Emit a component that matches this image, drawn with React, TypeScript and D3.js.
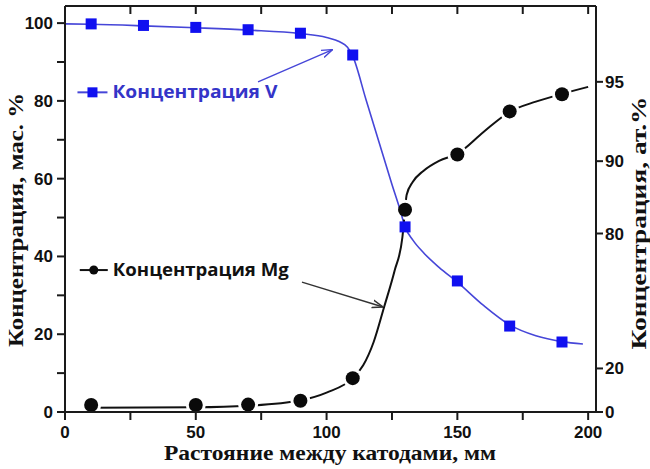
import React from "react";
import * as d3 from "d3";

// Distance between cathodes, mm
const vX = [10, 30, 50, 70, 90, 110, 130, 150, 170, 190];
const vWt = [99.8, 99.4, 98.9, 98.3, 97.4, 91.8, 47.6, 33.7, 22.1, 18.0];
const mgX = [10, 50, 70, 90, 110, 130, 150, 170, 190];
const mgWt = [1.8, 1.8, 1.9, 2.9, 8.7, 52.0, 66.2, 77.3, 81.7];

// Fit curves
const vFitX = [0, 10, 30, 50, 70, 90, 100, 105, 108, 110, 115, 120, 125, 128, 130, 133, 137, 143, 150, 160, 170, 180, 190, 198];
const vFitY = [99.8, 99.7, 99.3, 98.8, 98.2, 97.3, 96.3, 95.2, 93.8, 91.5, 80.5, 69.5, 58.5, 52.2, 47.6, 44.2, 41.0, 37.2, 33.4, 27.4, 22.4, 19.6, 18.1, 17.5];
const mgFitX = [10, 50, 70, 90, 100, 110, 114, 118, 122, 126, 129, 130, 130.6, 133, 137, 143, 150, 160, 170, 180, 190, 200];
const mgFitY = [1.1, 1.2, 1.6, 3.0, 5.0, 8.7, 12, 18, 27, 36.3, 45, 52, 55.8, 59.2, 62, 64.6, 66.4, 72, 77.2, 79.8, 81.8, 83.6];

const xMajor = [0, 50, 100, 150, 200];
const xAll = [0, 25, 50, 75, 100, 125, 150, 175, 200];
const yMajor = [0, 20, 40, 60, 80, 100];
const yMinor = [10, 30, 50, 70, 90];
const rightLabels = ["0", "20", "80", "90", "95"];
const rightWt = [0, 11.2, 45.9, 64.5, 84.9];

const W = 650, H = 469;
const L = 65, R = 596, T = 6, B = 412;

export default function App() {
  const x = d3.scaleLinear().domain([0, 203]).range([L, R]);
  const y = d3.scaleLinear().domain([0, 104.4]).range([B, T]);
  const line = d3.line<[number, number]>().x(d => x(d[0])).y(d => y(d[1])).curve(d3.curveMonotoneX);
  const vPath = line(vFitX.map((v, i) => [v, vFitY[i]]) as [number, number][]) || "";
  const mgPath = line(mgFitX.map((v, i) => [v, mgFitY[i]]) as [number, number][]) || "";

  const tickFont = { fontFamily: "'Liberation Sans', Arial, sans-serif", fontWeight: 700, fontSize: 17 } as const;
  const titleFont = { fontFamily: "'Liberation Serif', 'Times New Roman', serif", fontWeight: 700, fontSize: 21 } as const;
  const xTitleFont = { fontFamily: "'Liberation Serif', 'Times New Roman', serif", fontWeight: 700, fontSize: 20 } as const;
  const legFont = { fontFamily: "'Open Sans', sans-serif", fontWeight: 700, fontSize: 17 } as const;
  const axisCol = "#1a1a1a";
  const blue = "#1010f0";
  const blueLine = "#4646d8";

  // annotation anchors in data coordinates
  const vArrow = [[73.8, 84.9], [102.3, 93.2]];
  const mgArrow = [[90.6, 33.4], [121.6, 27.0]];
  const vLeg = [10.5, 82.2];
  const mgLeg = [11.0, 36.5];

  return (
    <svg width={W} height={H} style={{ position: "absolute", left: 0, top: 0, background: "#fff" }}>
      <defs>
        <marker id="arrBlue" viewBox="0 0 10 10" refX="10" refY="5" markerWidth="11" markerHeight="11" orient="auto" markerUnits="userSpaceOnUse">
          <path d="M0,1.5 L10,5 L0,8.5" fill="none" stroke={blueLine} strokeWidth={1.3} />
        </marker>
        <marker id="arrBlack" viewBox="0 0 10 10" refX="10" refY="5" markerWidth="11" markerHeight="11" orient="auto" markerUnits="userSpaceOnUse">
          <path d="M0,1.5 L10,5 L0,8.5" fill="none" stroke="#333" strokeWidth={1.3} />
        </marker>
        <mask id="mgMask" maskUnits="userSpaceOnUse" x={0} y={0} width={W} height={H}>
          <rect x={0} y={0} width={W} height={H} fill="#fff" />
          {mgX.map((v, i) => (
            <circle key={i} cx={x(v)} cy={y(mgWt[i])} r={10} fill="#000" />
          ))}
        </mask>
      </defs>
      <rect x={0} y={0} width={W} height={H} fill="#fff" />

      {/* curves */}
      <path d={vPath} fill="none" stroke={blueLine} strokeWidth={1.6} />
      <path d={mgPath} fill="none" stroke="#111" strokeWidth={2} mask="url(#mgMask)" />

      {/* markers */}
      {vX.map((v, i) => (
        <rect key={i} x={x(v) - 5.5} y={y(vWt[i]) - 5.5} width={11} height={11} fill={blue} />
      ))}
      {mgX.map((v, i) => (
        <circle key={i} cx={x(v)} cy={y(mgWt[i])} r={7} fill="#0a0a0a" />
      ))}

      {/* annotations */}
      <line x1={x(vArrow[0][0])} y1={y(vArrow[0][1])} x2={x(vArrow[1][0])} y2={y(vArrow[1][1])} stroke={blueLine} strokeWidth={1.4} markerEnd="url(#arrBlue)" />
      <line x1={x(mgArrow[0][0])} y1={y(mgArrow[0][1])} x2={x(mgArrow[1][0])} y2={y(mgArrow[1][1])} stroke="#333" strokeWidth={1.4} markerEnd="url(#arrBlack)" />

      {/* legends */}
      <g transform={`translate(${x(vLeg[0])},${y(vLeg[1])})`}>
        <line x1={-15} x2={15} y1={0} y2={0} stroke={blueLine} strokeWidth={2} />
        <rect x={-5} y={-5} width={10} height={10} fill={blue} />
        <text x={20} y={6} fill="#3434c8" {...legFont} textLength={165} lengthAdjust="spacingAndGlyphs">Концентрация V</text>
      </g>
      <g transform={`translate(${x(mgLeg[0])},${y(mgLeg[1])})`}>
        <line x1={-14} x2={14} y1={0} y2={0} stroke="#111" strokeWidth={2} />
        <circle cx={0} cy={0} r={4.5} fill="#0a0a0a" />
        <text x={19} y={6} fill="#111" {...legFont} textLength={176} lengthAdjust="spacingAndGlyphs">Концентрация Mg</text>
      </g>

      {/* frame */}
      <line x1={L} x2={R} y1={T} y2={T} stroke={axisCol} strokeWidth={2} />
      <line x1={L} x2={R} y1={B} y2={B} stroke={axisCol} strokeWidth={2} />
      <line x1={L} x2={L} y1={T} y2={B} stroke={axisCol} strokeWidth={2} />
      <line x1={R} x2={R} y1={T} y2={B} stroke={axisCol} strokeWidth={2} />

      {/* x ticks */}
      {xAll.map(v => (
        <g key={v}>
          <line x1={x(v)} x2={x(v)} y1={B} y2={B + 8} stroke={axisCol} strokeWidth={2} />
          <line x1={x(v)} x2={x(v)} y1={T} y2={T + 8} stroke={axisCol} strokeWidth={2} />
        </g>
      ))}
      {xMajor.map(v => (
        <text key={v} x={x(v)} y={437.5} textAnchor="middle" fill="#111" {...tickFont}>{v}</text>
      ))}

      {/* left ticks */}
      {yMajor.concat(yMinor).map(v => (
        <line key={v} x1={L - 8} x2={L} y1={y(v)} y2={y(v)} stroke={axisCol} strokeWidth={2} />
      ))}
      {yMajor.map(v => (
        <text key={v} x={L - 12} y={y(v) + 6} textAnchor="end" fill="#111" {...tickFont}>{v}</text>
      ))}

      {/* right ticks */}
      {rightWt.map((v, i) => (
        <g key={i}>
          <line x1={R} x2={R + 7} y1={y(v)} y2={y(v)} stroke={axisCol} strokeWidth={2} />
          <text x={R + 9} y={y(v) + 6} textAnchor="start" fill="#111" {...tickFont}>{rightLabels[i]}</text>
        </g>
      ))}

      {/* titles */}
      <text x={330} y={460} textAnchor="middle" fill="#111" {...xTitleFont} textLength={332} lengthAdjust="spacingAndGlyphs">Растояние между катодами, мм</text>
      <text transform={`translate(23,220) rotate(-90)`} textAnchor="middle" fill="#111" {...titleFont} textLength={254} lengthAdjust="spacingAndGlyphs">Концентрация, мас. %</text>
      <text transform={`translate(646,223) rotate(-90)`} textAnchor="middle" fill="#111" {...titleFont} textLength={253} lengthAdjust="spacingAndGlyphs">Концентрация, ат.%</text>
    </svg>
  );
}
